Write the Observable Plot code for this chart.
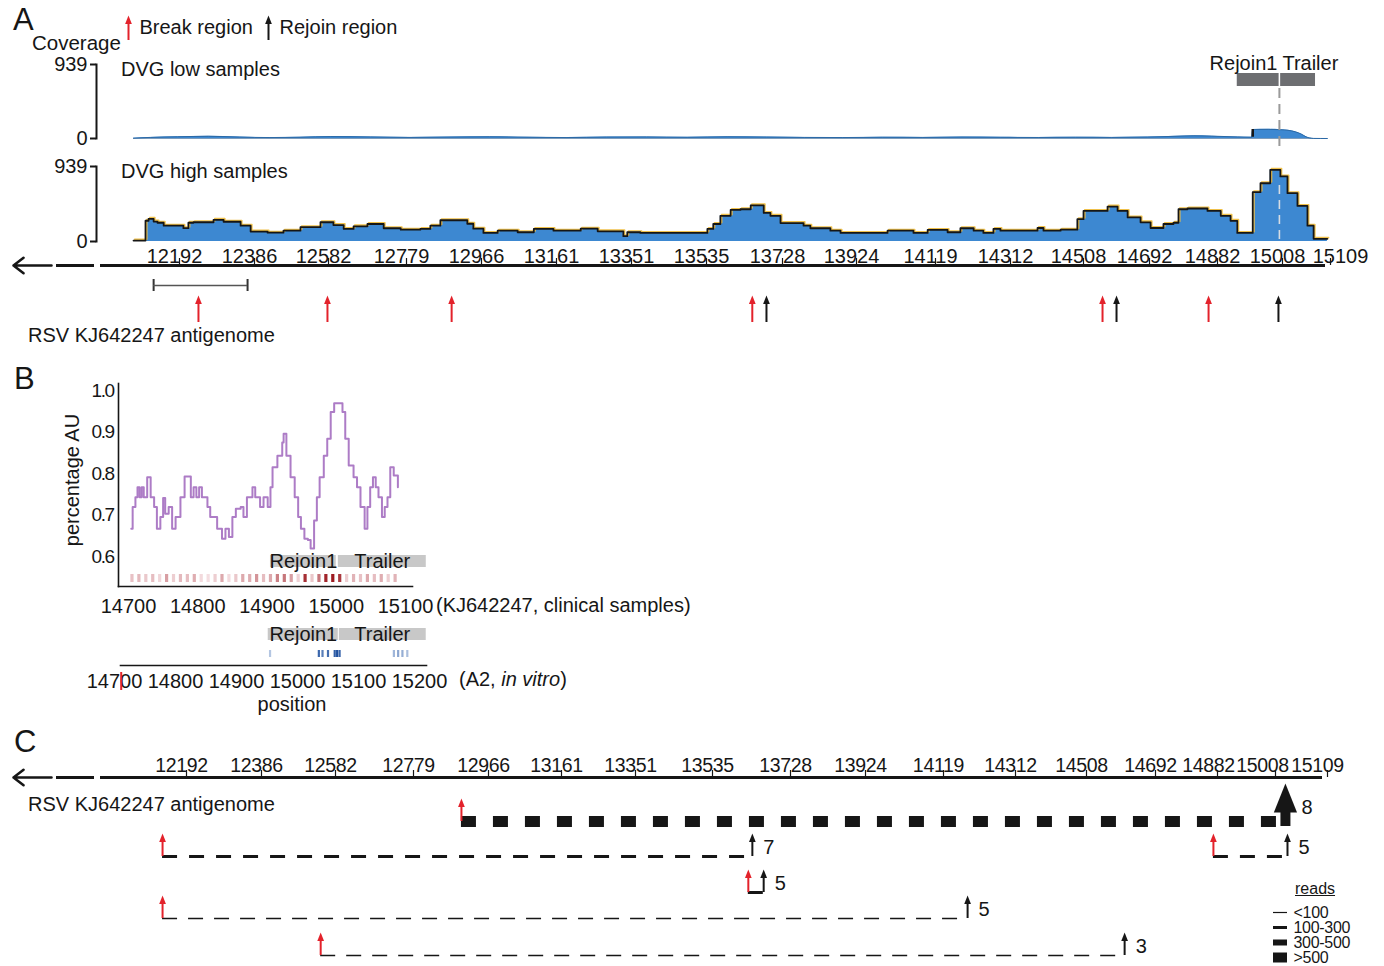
<!DOCTYPE html>
<html>
<head>
<meta charset="utf-8">
<script src="https://cdn.jsdelivr.net/npm/d3@7"></script>
<script src="https://cdn.jsdelivr.net/npm/@observablehq/plot@0.6"></script>
<style>
  html, body { margin: 0; padding: 0; background: #fff; overflow: hidden; }
  #fig { position: relative; width: 1384px; height: 966px; background: #fff;
         font-family: "Liberation Sans", Arial, Helvetica, sans-serif; color: #161616; }
  #fig > svg { position: absolute; left: 0; top: 0; }
  .lbl { position: absolute; white-space: nowrap; line-height: 1; }
</style>
</head>
<body>
<div id="fig"></div>
<script>
// ======================= DATA =======================
// ---- Panel A: coverage along the RSV KJ642247 antigenome ----
const genomeTicks = [12192, 12386, 12582, 12779, 12966, 13161, 13351, 13535, 13728, 13924, 14119, 14312, 14508, 14692, 14882, 15008, 15109];
const coverageTicks = [0, 939];

const lowPos   = [12086, 12130, 12200, 12280, 12360, 12440, 12520, 12600, 12700, 12800, 12900, 13000, 13100, 13200, 13300, 13400, 13500, 13600, 13700, 13800, 13900, 14000, 14100, 14200, 14300, 14400, 14500, 14600, 14700, 14780, 14830, 14880, 14930, 14958, 14960, 14990, 15014, 15030, 15045, 15058, 15068, 15076, 15084, 15113];
const lowReads = [4, 14, 22, 28, 18, 12, 16, 24, 20, 14, 18, 22, 16, 12, 18, 20, 15, 22, 18, 14, 12, 16, 14, 18, 15, 13, 16, 14, 18, 28, 34, 30, 20, 16, 114, 116, 112, 104, 86, 56, 22, 6, 1, 0];

const highPos   = [12086, 12117, 12125, 12138, 12148, 12164, 12215, 12228, 12241, 12293, 12319, 12363, 12389, 12434, 12476, 12521, 12574, 12607, 12633, 12658, 12693, 12734, 12777, 12826, 12851, 12876, 12943, 12958, 12984, 13021, 13073, 13115, 13166, 13235, 13278, 13343, 13353, 13385, 13550, 13565, 13583, 13609, 13634, 13660, 13693, 13710, 13736, 13797, 13815, 13868, 13895, 14013, 14038, 14077, 14112, 14163, 14196, 14230, 14255, 14281, 14299, 14398, 14414, 14460, 14505, 14522, 14589, 14617, 14645, 14681, 14709, 14745, 14773, 14787, 14812, 14868, 14898, 14917, 14930, 14960, 14975, 14994, 15014, 15029, 15050, 15071, 15084, 15113];
const highReads = [12, 260, 284, 250, 235, 198, 167, 235, 241, 272, 247, 198, 124, 111, 136, 179, 241, 206, 157, 190, 219, 166, 148, 157, 198, 266, 222, 161, 107, 136, 116, 157, 136, 161, 128, 67, 116, 107, 157, 219, 321, 395, 404, 453, 358, 321, 231, 198, 166, 136, 107, 136, 136, 107, 145, 116, 166, 136, 107, 157, 136, 169, 136, 148, 280, 383, 437, 383, 301, 240, 169, 219, 235, 404, 413, 383, 321, 259, 107, 618, 729, 898, 815, 605, 445, 198, 33, 33];

const regionNames  = ["Rejoin1", "Trailer"];
const regionStartA = [14930, 15012];
const regionEndA   = [15012, 15088];
const breakA  = [12254, 12592, 12904, 13664, 14575, 14871];
const rejoinA = [13700, 14614, 15010];
const mappedSpanA = [12138, 12381];
const legendItems = ["Break region", "Rejoin region"];

// ---- Panel B: percentage AU ----
const auPos = [14704, 14706, 14710, 14713, 14716, 14719, 14722, 14727, 14732, 14737, 14741, 14746, 14750, 14753, 14758, 14763, 14768, 14775, 14781, 14786, 14790, 14794, 14798, 14802, 14806, 14814, 14818, 14828, 14835, 14840, 14845, 14850, 14855, 14862, 14866, 14871, 14879, 14883, 14890, 14895, 14901, 14905, 14908, 14915, 14922, 14924, 14928, 14934, 14940, 14945, 14949, 14954, 14959, 14963, 14968, 14972, 14976, 14982, 14987, 14992, 14997, 15006, 15009, 15013, 15018, 15025, 15030, 15035, 15041, 15045, 15049, 15053, 15057, 15061, 15066, 15070, 15074, 15078, 15083, 15089];
const auVal = [0.667, 0.719, 0.743, 0.767, 0.743, 0.767, 0.743, 0.791, 0.743, 0.719, 0.667, 0.695, 0.741, 0.703, 0.719, 0.667, 0.695, 0.743, 0.793, 0.793, 0.743, 0.767, 0.743, 0.767, 0.743, 0.719, 0.695, 0.667, 0.643, 0.667, 0.647, 0.695, 0.715, 0.719, 0.695, 0.743, 0.767, 0.743, 0.719, 0.743, 0.719, 0.767, 0.815, 0.843, 0.875, 0.896, 0.843, 0.791, 0.743, 0.695, 0.667, 0.643, 0.640, 0.619, 0.687, 0.743, 0.791, 0.843, 0.884, 0.948, 0.969, 0.969, 0.948, 0.884, 0.819, 0.791, 0.767, 0.719, 0.667, 0.719, 0.767, 0.791, 0.767, 0.743, 0.695, 0.719, 0.743, 0.815, 0.795, 0.767];
const auTicks = [0.6, 0.7, 0.8, 0.9, 1.0];
const kjTicks = [14700, 14800, 14900, 15000, 15100];
const regionStartKJ = [14905, 15003];
const regionEndKJ   = [15000, 15130];
const kjSitePos = [14705, 14715, 14725, 14735, 14745, 14755, 14765, 14775, 14785, 14795, 14805, 14815, 14825, 14835, 14845, 14855, 14865, 14875, 14885, 14895, 14905, 14915, 14925, 14935, 14945, 14955, 14965, 14975, 14985, 14995, 15005, 15015, 15025, 15035, 15045, 15055, 15065, 15075, 15085];
const kjSiteVal = [0.18, 0.22, 0.15, 0.2, 0.08, 0.35, 0.12, 0.22, 0.2, 0.28, 0.06, 0.04, 0.12, 0.3, 0.06, 0.15, 0.3, 0.28, 0.4, 0.2, 0.3, 0.5, 0.55, 0.35, 0.1, 0.9, 0.15, 0.55, 0.95, 1.0, 0.85, 0.12, 0.25, 0.18, 0.3, 0.2, 0.28, 0.12, 0.25];
const a2Ticks = [14700, 14800, 14900, 15000, 15100, 15200];
const regionStartA2 = [14952, 15067];
const regionEndA2   = [15067, 15211];
const a2SitePos = [14955, 15035, 15041, 15050, 15061, 15065, 15069, 15158, 15165, 15172, 15180];
const a2SiteVal = [0.25, 0.85, 0.7, 0.8, 0.9, 1.0, 0.85, 0.35, 0.45, 0.4, 0.3];
const a2Marker = [14711];

// ---- Panel C: DVG junctions ----
const dvgBreak  = [12911, 12143, 14884, 13636, 12143, 12556];
const dvgRejoin = [15037, 13646, 15041, 13674, 14197, 14623];
const dvgRow    = [1, 2, 2, 3, 4, 5];
const dvgClass  = [">500", "100-300", "100-300", "100-300", "<100", "<100"];
const dvgCount  = [8, 7, 5, 5, 5, 3];
const readClasses = ["<100", "100-300", "300-500", ">500"];

// ======================= LAYOUT / STYLE =======================
const W = 1384, H = 966;
const INK = "#161616", RED = "#e3222b", BLUE = "#3d88d1", DARKGRAY = "#6d6e71", LIGHTGRAY = "#c8c8c8", PURPLE = "#ad7cc6";
const pixA = [174, 249, 323, 401, 476, 551, 626, 701, 777, 851, 930, 1005, 1078, 1144, 1212, 1277, 1325];
const pixC = [181, 256, 330, 408, 483, 556, 630, 707, 785, 860, 938, 1010, 1081, 1150, 1212, 1270, 1322];
const rowPix = [821, 856, 892, 918, 955];
const axisBreakPx = [13, 51, 56, 94, 100];
const readWidth = {"<100": 1.6, "100-300": 3, "300-500": 6, ">500": 11};
const readDash  = {"<100": "15 11", "100-300": "15 12", "300-500": "15 14", ">500": "15 17"};
const swatchWidth = {"<100": 1.2, "100-300": 3, "300-500": 6, ">500": 10};

// the genome axis of the figure is not uniform: piecewise mapping through the tick marks
const gA = d3.scaleLinear().domain(genomeTicks).range(pixA);
const gC = d3.scaleLinear().domain(genomeTicks).range(pixC);
const rowY = d3.scaleLinear().domain([1, 2, 3, 4, 5]).range(rowPix);
const X_A = {type: "linear", transform: gA, domain: [0, W], range: [0, W]};
const X_C = {type: "linear", transform: gC, domain: [0, W], range: [0, W]};

const fig = document.getElementById("fig");

// arrow head symbol: tip at the origin, base below it
const head = {
  draw(ctx, size) {
    const r = Math.sqrt(size / Math.PI), h = 2 * r, w = 1.6 * r;
    ctx.moveTo(0, 0); ctx.lineTo(w / 2, h); ctx.lineTo(-w / 2, h); ctx.closePath();
  }
};

function layer({top, bottom, left = 0, right = W, x = {}, y = {}, color, css = "", marks}) {
  const opts = {
    width: W, height: H,
    marginTop: top, marginBottom: H - bottom, marginLeft: left, marginRight: W - right,
    x: {axis: null, ...x}, y: {axis: null, ...y},
    style: `background:transparent;overflow:visible;max-width:none;font-family:'Liberation Sans',Arial,Helvetica,sans-serif;font-size:20px;color:${INK};${css}`,
    marks
  };
  if (color) opts.color = color;
  const svg = Plot.plot(opts);
  fig.append(svg);
  return svg;
}

function frameArrows(data, color, r = 4.2, sw = 2) {
  return [
    Plot.ruleX(data, {x: d => d, stroke: color, strokeWidth: sw, insetTop: r * 1.3}),
    Plot.dot(data, {x: d => d, frameAnchor: "top", symbol: head, r, fill: color, stroke: "none"})
  ];
}

function genomeAxis(top, bottom, xcfg, gs, shifts, {fontSize = 20, dy = -3, css = ""} = {}) {
  const [a0, a1, b0, b1, c0] = axisBreakPx.map(p => gs.invert(p));
  const groups = d3.groups(genomeTicks, t => shifts[t] || 0);
  layer({top, bottom, x: xcfg, y: {domain: [0, 1]}, css, marks: [
    Plot.ruleY([0], {x1: c0, x2: genomeTicks[genomeTicks.length - 1], stroke: INK, strokeWidth: 3}),
    Plot.ruleY([0], {x1: b0, x2: b1, stroke: INK, strokeWidth: 3}),
    Plot.arrow([0], {x1: a1, y1: 0, x2: a0, y2: 0, stroke: INK, strokeWidth: 2.6, headLength: 8, headAngle: 75}),
    Plot.ruleX(genomeTicks, {x: d => d, insetTop: bottom - top - 7, dx: 5, stroke: INK, strokeWidth: 1.2}),
    ...groups.map(([dx, ts]) => Plot.text(ts, {x: d => d, text: d => String(d), frameAnchor: "bottom", lineAnchor: "bottom", dy, dx, fontSize}))
  ]});
}

function label(html, left, cy, size = 20, css = "", k = 0.53) {
  const d = document.createElement("div");
  d.className = "lbl";
  d.innerHTML = html;
  d.style.cssText = `left:${left}px;top:${(cy - k * size).toFixed(1)}px;font-size:${size}px;${css}`;
  fig.append(d);
}

// ======================= PANEL A =======================
label("A", 13, 19, 31, "", 0.49);
label("Coverage", 32, 44, 20.5);
label("DVG low samples", 121, 70);
label("DVG high samples", 121, 172);
label("RSV KJ642247 antigenome", 28, 336);

// legend (break / rejoin arrows)
layer({top: 15, bottom: 40, x: {type: "point", domain: legendItems, range: [128, 268], padding: 0}, marks: [
  ...frameArrows([legendItems[0]], RED),
  ...frameArrows([legendItems[1]], INK),
  Plot.text(legendItems, {x: d => d, text: d => d, dx: 11, textAnchor: "start", frameAnchor: "middle", lineAnchor: "middle", fontSize: 20})
]});

// low coverage
const lowIdx = d3.range(lowPos.length);
const stepI = d3.maxIndex(lowIdx, i => i ? lowReads[i] - lowReads[i - 1] : -Infinity);
layer({top: 64, bottom: 138, left: 96, x: X_A, y: {domain: [0, 939]}, marks: [
  Plot.ruleY([0], {x1: lowPos[0], x2: genomeTicks[genomeTicks.length - 1], stroke: "#7d9cbc", strokeWidth: 1.2}),
  Plot.areaY(lowIdx, {x: i => lowPos[i], y: i => lowReads[i], curve: "monotone-x", fill: BLUE}),
  Plot.lineY(lowIdx, {x: i => lowPos[i], y: i => lowReads[i], curve: "monotone-x", stroke: "#2b69a6", strokeWidth: 1}),
  Plot.ruleX([stepI], {x: i => lowPos[i], y1: i => lowReads[i - 1], y2: i => lowReads[i], stroke: INK, strokeWidth: 2.5}),
  Plot.frame({anchor: "left", stroke: INK, strokeWidth: 2}),
  Plot.axisY(coverageTicks, {anchor: "left", tickSize: 6, tickPadding: 3, fontSize: 20, label: null, strokeWidth: 2, tickFormat: d => String(d)})
]});

// high coverage
const highIdx = d3.range(highPos.length);
layer({top: 166, bottom: 241, left: 96, x: X_A, y: {domain: [0, 939]}, marks: [
  Plot.areaY(highIdx, {x: i => highPos[i], y: i => highReads[i], curve: "step-after", fill: BLUE}),
  Plot.lineY(highIdx, {x: i => highPos[i], y: i => highReads[i], curve: "step-after", stroke: "#efc04a", strokeWidth: 1.6, dx: 1.2, dy: -1.2}),
  Plot.lineY(highIdx, {x: i => highPos[i], y: i => highReads[i], curve: "step-after", stroke: INK, strokeWidth: 1.8}),
  Plot.frame({anchor: "left", stroke: INK, strokeWidth: 2}),
  Plot.axisY(coverageTicks, {anchor: "left", tickSize: 6, tickPadding: 3, fontSize: 20, label: null, strokeWidth: 2, tickFormat: d => String(d)})
]});

// dashed guide at Rejoin1 / Trailer boundary
layer({top: 88, bottom: 149, x: X_A, marks: [
  Plot.ruleX([regionEndA[0]], {x: d => d, stroke: "#9a9a9a", strokeWidth: 2, strokeDasharray: "10 6"})
]});
layer({top: 185, bottom: 241, x: X_A, marks: [
  Plot.ruleX([regionEndA[0]], {x: d => d, stroke: "#d5dce4", strokeWidth: 1.6, strokeDasharray: "9 6"})
]});

// region bars
layer({top: 73, bottom: 86, x: X_A, marks: [
  Plot.rect([0, 1], {x1: i => regionStartA[i], x2: i => regionEndA[i], fill: DARKGRAY}),
  Plot.ruleX([regionEndA[0]], {x: d => d, stroke: "#fff", strokeWidth: 1.5}),
  Plot.text([0], {x: i => regionEndA[i], text: i => regionNames[i], frameAnchor: "top", lineAnchor: "bottom", textAnchor: "end", dx: -2, dy: -4, fontSize: 20}),
  Plot.text([1], {x: i => regionStartA[i], text: i => regionNames[i], frameAnchor: "top", lineAnchor: "bottom", textAnchor: "start", dx: 3, dy: -4, fontSize: 20})
]});

// genome axis A
genomeAxis(240, 265, X_A, gA, {15109: 15});

// mapped span bracket
layer({top: 279, bottom: 291, x: X_A, y: {domain: [-1, 1]}, marks: [
  Plot.ruleX(mappedSpanA, {x: d => d, stroke: "#333", strokeWidth: 2}),
  Plot.ruleY([0], {x1: mappedSpanA[0], x2: mappedSpanA[1], stroke: "#555", strokeWidth: 1.5})
]});

// break / rejoin arrows
layer({top: 295, bottom: 322, x: X_A, marks: [
  ...frameArrows(breakA, RED),
  ...frameArrows(rejoinA, INK)
]});

// ======================= PANEL B =======================
label("B", 14, 378, 31, "", 0.49);
label("(KJ642247, clinical samples)", 436, 606);
label("(A2, <i>in vitro</i>)", 459, 680);
label("position", 292, 705, 20, "transform:translateX(-50%);");
label("percentage AU", 72, 480, 20, "transform:translate(-50%,0) rotate(-90deg);transform-origin:50% 50%;", 0.5);

const X_KJ = {domain: [14700, 15100], range: [128, 405]};
const auIdx = d3.range(auPos.length);
layer({top: 383, bottom: 586, left: 118, right: 412, x: X_KJ, y: {domain: [0.6, 1.0], range: [556, 390]}, marks: [
  Plot.line(auIdx, {x: i => auPos[i], y: i => auVal[i], curve: "step-after", stroke: PURPLE, strokeWidth: 2}),
  Plot.frame({anchor: "left", stroke: INK, strokeWidth: 1.6}),
  Plot.frame({anchor: "bottom", stroke: INK, strokeWidth: 1.6}),
  Plot.text(kjTicks, {x: d => d, text: d => String(d), frameAnchor: "bottom", lineAnchor: "top", dy: 12, fontSize: 20})
]});
layer({top: 383, bottom: 586, left: 118, right: 412, x: X_KJ, y: {domain: [0.6, 1.0], range: [556, 390]}, css: "letter-spacing:-1.5px;", marks: [
  Plot.text(auTicks, {y: d => d, text: d => d.toFixed(1), frameAnchor: "left", textAnchor: "end", dx: -5, lineAnchor: "middle", fontSize: 19})
]});
layer({top: 555, bottom: 567, x: X_KJ, marks: [
  Plot.rect([0, 1], {x1: i => regionStartKJ[i], x2: i => regionEndKJ[i], fill: LIGHTGRAY}),
  Plot.text([0, 1], {x: i => (regionStartKJ[i] + regionEndKJ[i]) / 2, text: i => regionNames[i], frameAnchor: "middle", lineAnchor: "middle", fontSize: 20})
]});
layer({top: 574, bottom: 582, x: X_KJ, color: {type: "linear", domain: [0, 1], range: ["#f8e6e9", "#9d1b21"]}, marks: [
  Plot.ruleX(d3.range(kjSitePos.length), {x: i => kjSitePos[i], stroke: i => kjSiteVal[i], strokeWidth: 3.2})
]});

const X_A2 = {domain: [14700, 15200], range: [114, 419]};
layer({top: 628, bottom: 640, x: X_A2, marks: [
  Plot.rect([0, 1], {x1: i => regionStartA2[i], x2: i => regionEndA2[i], fill: LIGHTGRAY}),
  Plot.ruleX([regionEndA2[0]], {x: d => d, stroke: "#fff", strokeWidth: 1}),
  Plot.text([0, 1], {x: i => (regionStartA2[i] + regionEndA2[i]) / 2, text: i => regionNames[i], frameAnchor: "middle", lineAnchor: "middle", fontSize: 20})
]});
layer({top: 650, bottom: 657, x: X_A2, color: {type: "linear", domain: [0, 1], range: ["#e6eef8", "#1d4f9e"]}, marks: [
  Plot.ruleX(d3.range(a2SitePos.length), {x: i => a2SitePos[i], stroke: i => a2SiteVal[i], strokeWidth: 2.2})
]});
layer({top: 640, bottom: 665, left: 120, right: 426, x: X_A2, marks: [
  Plot.frame({anchor: "bottom", stroke: INK, strokeWidth: 1.6}),
  Plot.text(a2Ticks, {x: d => d, text: d => String(d), frameAnchor: "bottom", lineAnchor: "top", dy: 8, fontSize: 20})
]});
layer({top: 672, bottom: 690, x: X_A2, marks: [
  Plot.ruleX(a2Marker, {x: d => d, stroke: RED, strokeWidth: 2})
]});

// ======================= PANEL C =======================
label("C", 14, 741, 31, "", 0.49);
label("RSV KJ642247 antigenome", 28, 805);
label("reads", 1295, 889, 16, "text-decoration:underline;");

genomeAxis(752, 777, X_C, gC, {14882: -4, 15008: -8, 15109: -5}, {fontSize: 19.5, dy: -6, css: "letter-spacing:-0.3px;"});

const dvgIdx = d3.range(dvgBreak.length);
const bigIdx = dvgIdx.filter(i => dvgClass[i] === ">500");
const smallIdx = dvgIdx.filter(i => dvgClass[i] !== ">500");
const ARROW_LEN = 23;

function rowArrows(idx, xAcc, color, r = 4.2, sw = 2) {
  return [
    Plot.ruleX(idx, {x: xAcc, y1: i => dvgRow[i], y2: i => dvgRow[i], insetTop: -(ARROW_LEN - r * 1.3), stroke: color, strokeWidth: sw}),
    Plot.dot(idx, {x: xAcc, y: i => dvgRow[i], dy: -ARROW_LEN, symbol: head, r, fill: color, stroke: "none"})
  ];
}

layer({top: 780, bottom: 966, x: X_C, y: {type: "linear", transform: rowY, domain: [0, H], range: [0, H]}, marks: [
  ...readClasses.map(c => Plot.ruleY(dvgIdx.filter(i => dvgClass[i] === c), {
    y: i => dvgRow[i], x1: i => dvgBreak[i], x2: i => dvgRejoin[i],
    stroke: INK, strokeWidth: readWidth[c], strokeDasharray: readDash[c]
  })),
  ...rowArrows(dvgIdx, i => dvgBreak[i], RED),
  ...rowArrows(smallIdx, i => dvgRejoin[i], INK),
  // large arrow for the most abundant DVG
  Plot.ruleX(bigIdx, {x: i => dvgRejoin[i], y1: i => dvgRow[i], y2: i => dvgRow[i], insetTop: -9, insetBottom: -5, stroke: INK, strokeWidth: 10}),
  Plot.dot(bigIdx, {x: i => dvgRejoin[i], y: i => dvgRow[i], dy: -38, symbol: head, r: 14.5, fill: INK, stroke: "none"}),
  Plot.text(smallIdx, {x: i => dvgRejoin[i], y: i => dvgRow[i], text: i => String(dvgCount[i]), dx: 11, dy: -9, textAnchor: "start", lineAnchor: "middle", fontSize: 20}),
  Plot.text(bigIdx, {x: i => dvgRejoin[i], y: i => dvgRow[i], text: i => String(dvgCount[i]), dx: 16, dy: -14, textAnchor: "start", lineAnchor: "middle", fontSize: 20})
]});

// reads legend
layer({top: 880, bottom: 966, x: {domain: [0, 1], range: [1273, 1287]}, y: {type: "point", domain: readClasses, range: [911, 958], padding: 0}, css: "letter-spacing:-0.3px;", marks: [
  Plot.ruleY(readClasses, {y: d => d, x1: 0, x2: 1, stroke: INK, strokeWidth: d => swatchWidth[d]}),
  Plot.text(readClasses, {y: d => d, x: 1, dx: 6, text: d => d, textAnchor: "start", lineAnchor: "middle", fontSize: 16})
]});
</script>
</body>
</html>
